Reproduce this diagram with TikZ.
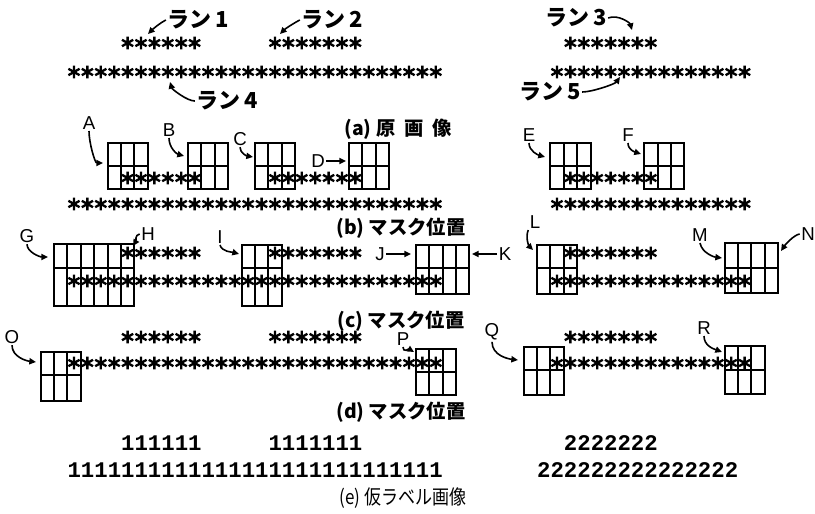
\documentclass[tikz,border=0pt]{standalone}
\usepackage{fontspec}
\setmainfont{Liberation Serif}
\setsansfont{Liberation Sans}
\newfontfamily\jpfont{Noto Sans CJK JP}
\newfontfamily\digitfont{Liberation Mono}
\usetikzlibrary{arrows.meta,fit,calc}

% character pitch and column origins (left and right groups)
\def\pitch{13.4}
\def\leftorigin{74}
\def\rightorigin{557}

\tikzset{
  astmark/.pic={
    \draw[aststroke] (0,-6.3) -- (0,6.3)
      (-5.6,-3.2) -- (5.6,3.2)
      (-5.6,3.2) -- (5.6,-3.2);
  },
  aststroke/.style={line width=1.75pt},
  maskbox/.style={draw, line width=1.5pt, inner sep=0pt},
  maskline/.style={line width=1.5pt},
  handarrow/.style={
    line width=1.2pt,
    -{Triangle[length=5pt,width=4.6pt]}
  },
  runlabel/.style={
    font=\jpfont\bfseries\fontsize{16.5}{18}\selectfont,
    inner sep=1pt
  },
  lettertag/.style={
    font=\sffamily\fontsize{14}{16}\selectfont,
    inner sep=1pt
  },
  capline/.style={
    font=\jpfont\bfseries\fontsize{14.5}{17}\selectfont,
    inner sep=1pt
  },
  labelcap/.style={
    font=\jpfont\fontsize{15}{18}\selectfont,
    inner sep=1pt
  },
  digitrow/.style={
    font=\digitfont\bfseries\fontsize{16.75}{18}\selectfont,
    inner sep=0pt,
    anchor=west
  }
}

% one run of asterisks: origin x, y, first column, last column
\newcommand\astrow[4]{%
  \foreach \c in {#3,...,#4} \pic at ({#1+\c*\pitch},#2) {astmark};%
}

% one mask: name, origin x, first column, columns, top, middle, bottom
\newcommand\maskcells[7]{%
  \pgfmathsetmacro\mskl{#2+(#3-0.5)*\pitch}%
  \pgfmathsetmacro\mskr{#2+(#3+#4-0.5)*\pitch}%
  \pgfmathtruncatemacro\mskn{#4-1}%
  \coordinate (#1-nw) at (\mskl,#5);
  \coordinate (#1-se) at (\mskr,#7);
  \node[maskbox, fit=(#1-nw)(#1-se)] (#1) {};
  \draw[maskline] (\mskl,#6) -- (\mskr,#6);
  \foreach \k in {1,...,\mskn}
    \draw[maskline] ({\mskl+\k*\pitch},#5) -- ({\mskl+\k*\pitch},#7);
}

\begin{document}
\begin{tikzpicture}[x=0.75pt, y=-0.75pt]
\useasboundingbox[fill=white] (0,0) rectangle (815,514);

% ---------------------------------------------------------------------------
% runs of asterisks, rows (a) to (d)
% ---------------------------------------------------------------------------
\foreach \ytop/\ybot in {43/72, 178/204, 253/281, 337/363} {
  \astrow{\leftorigin}{\ytop}{4}{9}
  \astrow{\leftorigin}{\ytop}{15}{21}
  \astrow{\leftorigin}{\ybot}{0}{27}
  \astrow{\rightorigin}{\ytop}{1}{7}
  \astrow{\rightorigin}{\ybot}{0}{14}
}

% ---------------------------------------------------------------------------
% (a) original image
% ---------------------------------------------------------------------------
\node[runlabel] (run1) at (198,20) {ラン\,1};
\node[runlabel] (run2) at (332,20) {ラン\,2};
\node[runlabel] (run3) at (576,18) {ラン\,3};
\node[runlabel] (run4) at (227,101) {ラン\,4};
\node[runlabel] (run5) at (550,92) {ラン\,5};
\coordinate (run1tip) at (148,34);
\coordinate (run2tip) at (280,34);
\coordinate (run3tip) at (632,30);
\coordinate (run4tip) at (170,82);
\coordinate (run5tip) at (620,77);
\draw[handarrow] (run1.west) .. controls +(-6,3) and +(5,-5) .. (run1tip);
\draw[handarrow] (run2.west) .. controls +(-6,3) and +(5,-5) .. (run2tip);
\draw[handarrow] (run3.east) .. controls +(10,-4) and +(-2,-7) .. (run3tip);
\draw[handarrow] (run4.west) .. controls +(-8,0) and +(2,7) .. (run4tip);
\draw[handarrow] (run5.east) .. controls +(10,0) and +(-5,7) .. (run5tip);
\node[capline] (capa) at (398,129) {(a)\ 原\hspace{0.45em}画\hspace{0.45em}像};

% ---------------------------------------------------------------------------
% (b) mask positions on the upper runs
% ---------------------------------------------------------------------------
\maskcells{mA}{\leftorigin}{3}{3}{143}{166}{189}
\maskcells{mB}{\leftorigin}{9}{3}{143}{166}{189}
\maskcells{mC}{\leftorigin}{14}{3}{143}{166}{189}
\maskcells{mD}{\leftorigin}{21}{3}{143}{166}{189}
\maskcells{mE}{\rightorigin}{0}{3}{143}{166}{189}
\maskcells{mF}{\rightorigin}{7}{3}{143}{166}{189}

\node[lettertag] (lA) at (89,123) {A};
\node[lettertag] (lB) at (169,130) {B};
\node[lettertag] (lC) at (240,139) {C};
\node[lettertag] (lD) at (318,161) {D};
\node[lettertag] (lE) at (529,135) {E};
\node[lettertag] (lF) at (628,135) {F};
\coordinate (tipA) at (103,163);
\coordinate (tipB) at (184,156);
\coordinate (tipC) at (253,157);
\coordinate (tipD) at (346,161);
\coordinate (tipE) at (545,157);
\coordinate (tipF) at (641,154);
\draw[handarrow] (lA.south) .. controls +(0,12) and +(-8,0) .. (tipA);
\draw[handarrow] (lB.south) .. controls +(0,10) and +(-7,-2) .. (tipB);
\draw[handarrow] (lC.south) .. controls +(0,6) and +(-6,-1) .. (tipC);
\draw[handarrow] (lD.east) -- (tipD);
\draw[handarrow] (lE.south) .. controls +(0,8) and +(-7,-2) .. (tipE);
\draw[handarrow] (lF.south) .. controls +(0,7) and +(-6,-2) .. (tipF);
\node[capline] (capb) at (401,228) {(b)\ マスク位置};

% ---------------------------------------------------------------------------
% (c) mask positions on both rows
% ---------------------------------------------------------------------------
\maskcells{mG}{\leftorigin}{-1}{3}{244}{268}{306}
\maskcells{mH}{\leftorigin}{2}{3}{244}{268}{306}
\maskcells{mI}{\leftorigin}{13}{3}{245}{268}{306}
\maskcells{mJK}{\leftorigin}{26}{4}{245}{268}{294}
\maskcells{mL}{\rightorigin}{-1}{3}{245}{268}{294}
\maskcells{mMN}{\rightorigin}{13}{4}{243}{268}{293}

\node[lettertag] (lG) at (27,236) {G};
\node[lettertag] (lH) at (148,234) {H};
\node[lettertag] (lI) at (220,237) {I};
\node[lettertag] (lJ) at (380,254) {J};
\node[lettertag] (lK) at (505,254) {K};
\node[lettertag] (lL) at (535,222) {L};
\node[lettertag] (lM) at (700,235) {M};
\node[lettertag] (lN) at (808,234) {N};
\coordinate (tipG) at (48,257);
\coordinate (tipH) at (133,246);
\coordinate (tipI) at (239,254);
\coordinate (tipJ) at (411,254);
\coordinate (tipK) at (472,254);
\coordinate (tipL) at (533,250);
\coordinate (tipM) at (722,258);
\coordinate (tipN) at (781,251);
\draw[handarrow] (lG.south) .. controls +(0,8) and +(-8,0) .. (tipG);
\draw[handarrow] (lH.west) .. controls +(-5,1) and +(3,-5) .. (tipH);
\draw[handarrow] (lI.south) .. controls +(2,7) and +(-7,-2) .. (tipI);
\draw[handarrow] (lJ.east) -- (tipJ);
\draw[handarrow] (lK.west) -- (tipK);
\draw[handarrow] (lL.south west) .. controls +(-3,8) and +(-4,-4) .. (tipL);
\draw[handarrow] (lM.south) .. controls +(2,10) and +(-8,-1) .. (tipM);
\draw[handarrow] (lN.west) .. controls +(-6,1) and +(4,-6) .. (tipN);
\node[capline] (capc) at (401,321) {(c)\ マスク位置};

% ---------------------------------------------------------------------------
% (d) mask positions on the lower runs
% ---------------------------------------------------------------------------
\maskcells{mO}{\leftorigin}{-2}{3}{352}{375}{401}
\maskcells{mP}{\leftorigin}{26}{3}{349}{372}{395}
\maskcells{mQ}{\rightorigin}{-2}{3}{347}{370}{395}
\maskcells{mR}{\rightorigin}{13}{3}{346}{370}{394}

\node[lettertag] (lO) at (12,337) {O};
\node[lettertag] (lP) at (403,339) {P};
\node[lettertag] (lQ) at (492,332) {Q};
\node[lettertag] (lR) at (704,328) {R};
\coordinate (tipO) at (36,362);
\coordinate (tipP) at (414,352);
\coordinate (tipQ) at (518,360);
\coordinate (tipR) at (722,352);
\draw[handarrow] (lO.south) .. controls +(0,12) and +(-9,-1) .. (tipO);
\draw[handarrow] (lP.south) .. controls +(0,6) and +(-5,-3) .. (tipP);
\draw[handarrow] (lQ.south) .. controls +(0,14) and +(-9,-1) .. (tipQ);
\draw[handarrow] (lR.south) .. controls +(0,10) and +(-8,-3) .. (tipR);
\node[capline] (capd) at (401,412) {(d)\ マスク位置};

% ---------------------------------------------------------------------------
% (e) provisional label image
% ---------------------------------------------------------------------------
\node[digitrow] (ones1) at ({\leftorigin+3.5*\pitch},443) {111111};
\node[digitrow] (ones2) at ({\leftorigin+14.5*\pitch},443) {1111111};
\node[digitrow] (ones3) at ({\leftorigin-0.5*\pitch},470) {1111111111111111111111111111};
\node[digitrow] (twos1) at ({\rightorigin+0.5*\pitch},443) {2222222};
\node[digitrow] (twos2) at ({\rightorigin-1.5*\pitch},470) {222222222222222};
\node[labelcap, xscale=0.85] (cape) at (403,498) {(e) 仮ラベル画像};

\end{tikzpicture}
\end{document}
